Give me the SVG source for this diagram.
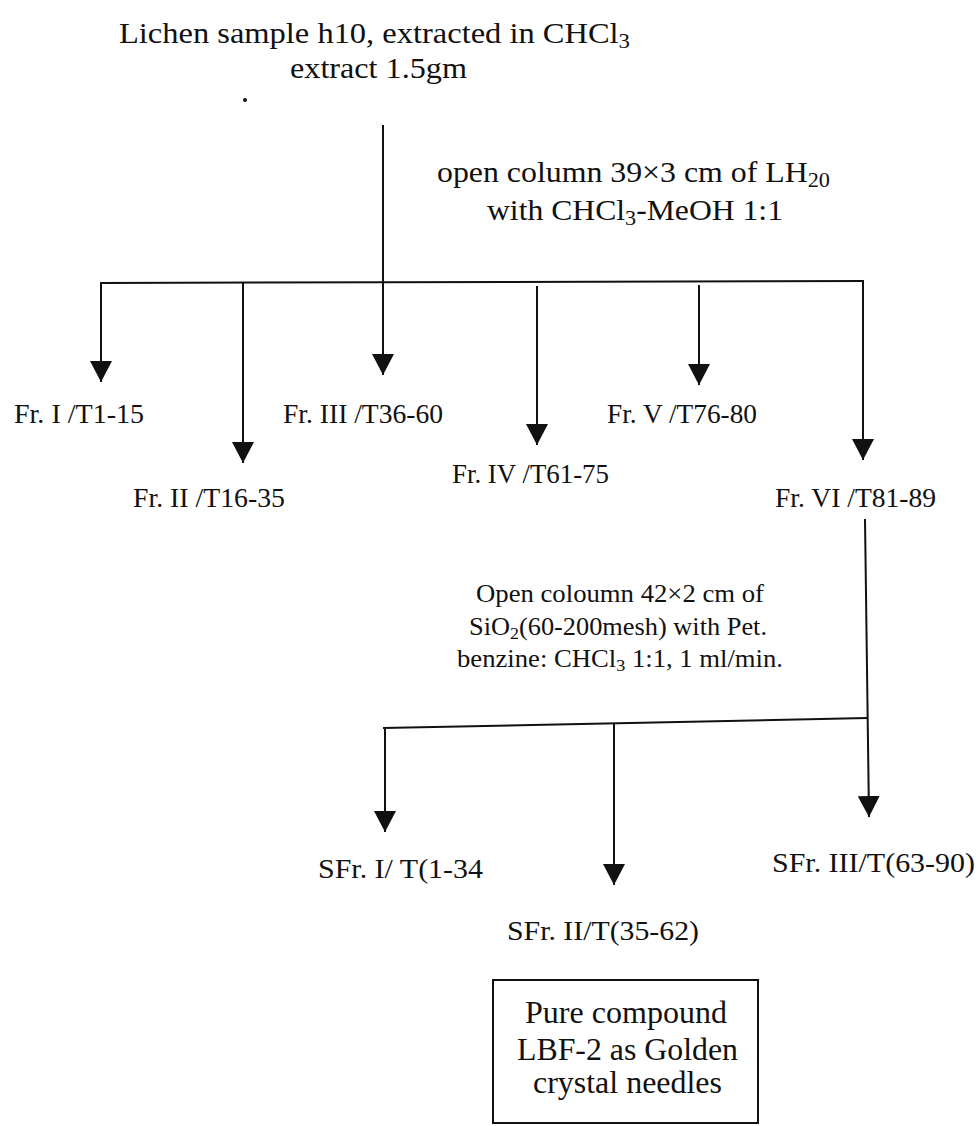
<svg xmlns="http://www.w3.org/2000/svg" width="979" height="1126" viewBox="0 0 979 1126">
<style>
text{font-family:"Liberation Serif","Times New Roman",serif;fill:#111;}
.tA{font-size:30px;}
.tF{font-size:27px;}
.tM{font-size:25px;}
.tS{font-size:27px;}
.tB{font-size:31px;}
.ln{stroke:#111;stroke-width:2;fill:none;}
.arr{marker-end:url(#ah);}
.box{fill:#fff;stroke:#111;stroke-width:2;}
</style>
<defs>
<marker id="ah" markerUnits="userSpaceOnUse" markerWidth="22" markerHeight="22" viewBox="0 0 22 22" refX="21" refY="11" orient="auto">
<path d="M0,0 L21,11 L0,22 z" fill="#111"/>
</marker>
</defs>
<rect width="979" height="1126" fill="#fff"/>
<g id="connectors">
<line class="ln arr" x1="383" y1="125" x2="383" y2="375"/>
<line class="ln" x1="100" y1="283" x2="864" y2="281"/>
<line class="ln arr" x1="101" y1="283" x2="101" y2="382"/>
<line class="ln arr" x1="243" y1="283" x2="243" y2="463"/>
<line class="ln arr" x1="537" y1="286" x2="537" y2="445"/>
<line class="ln arr" x1="699" y1="285" x2="699" y2="385"/>
<line class="ln arr" x1="863" y1="281" x2="863" y2="460"/>
<line class="ln arr" x1="865" y1="519" x2="869" y2="817"/>
<line class="ln" x1="383" y1="728" x2="867" y2="718"/>
<line class="ln arr" x1="385" y1="727" x2="385" y2="832"/>
<line class="ln arr" x1="614" y1="723" x2="614" y2="885"/>
</g>
<g id="source">
<text class="tA" x="119" y="43" textLength="511" lengthAdjust="spacingAndGlyphs">Lichen sample h10, extracted in CHCl<tspan font-size="21" dy="5">3</tspan></text>
<text class="tA" x="290" y="78" textLength="177" lengthAdjust="spacingAndGlyphs">extract 1.5gm</text>
<circle cx="245" cy="100" r="2" fill="#111"/>
</g>
<g id="step1-label">
<text class="tA" x="437" y="182" textLength="393" lengthAdjust="spacingAndGlyphs">open column 39×3 cm of LH<tspan font-size="21" dy="5">20</tspan></text>
<text class="tA" x="487" y="220" textLength="296" lengthAdjust="spacingAndGlyphs">with CHCl<tspan font-size="21" dy="5">3</tspan><tspan dy="-5">-MeOH 1:1</tspan></text>
</g>
<g id="fr1"><text class="tF" x="14" y="423" textLength="130" lengthAdjust="spacingAndGlyphs">Fr. I /T1-15</text></g>
<g id="fr2"><text class="tF" x="133" y="507" textLength="152" lengthAdjust="spacingAndGlyphs">Fr. II /T16-35</text></g>
<g id="fr3"><text class="tF" x="283" y="423" textLength="160" lengthAdjust="spacingAndGlyphs">Fr. III /T36-60</text></g>
<g id="fr4"><text class="tF" x="452" y="483" textLength="157" lengthAdjust="spacingAndGlyphs">Fr. IV /T61-75</text></g>
<g id="fr5"><text class="tF" x="607" y="423" textLength="150" lengthAdjust="spacingAndGlyphs">Fr. V /T76-80</text></g>
<g id="fr6"><text class="tF" x="775" y="507" textLength="161" lengthAdjust="spacingAndGlyphs">Fr. VI /T81-89</text></g>
<g id="step2-label">
<text class="tM" x="476" y="602" textLength="288" lengthAdjust="spacingAndGlyphs">Open coloumn 42×2 cm of</text>
<text class="tM" x="469" y="635" textLength="298" lengthAdjust="spacingAndGlyphs">SiO<tspan font-size="17" dy="4">2</tspan><tspan dy="-4">(60-200mesh) with Pet.</tspan></text>
<text class="tM" x="457" y="667" textLength="326" lengthAdjust="spacingAndGlyphs">benzine: CHCl<tspan font-size="17" dy="4">3</tspan><tspan dy="-4"> 1:1, 1 ml/min.</tspan></text>
</g>
<g id="sfr1"><text class="tS" x="318" y="878" textLength="165" lengthAdjust="spacingAndGlyphs">SFr. I/ T(1-34</text></g>
<g id="sfr2"><text class="tS" x="507" y="940" textLength="192" lengthAdjust="spacingAndGlyphs">SFr. II/T(35-62)</text></g>
<g id="sfr3"><text class="tS" x="772" y="872" textLength="203" lengthAdjust="spacingAndGlyphs">SFr. III/T(63-90)</text></g>
<g id="product">
<rect class="box" x="493" y="980" width="265" height="143"/>
<text class="tB" x="525" y="1023" textLength="202" lengthAdjust="spacingAndGlyphs">Pure compound</text>
<text class="tB" x="517" y="1060" textLength="221" lengthAdjust="spacingAndGlyphs">LBF-2 as Golden</text>
<text class="tB" x="533" y="1093" textLength="189" lengthAdjust="spacingAndGlyphs">crystal needles</text>
</g>
</svg>
